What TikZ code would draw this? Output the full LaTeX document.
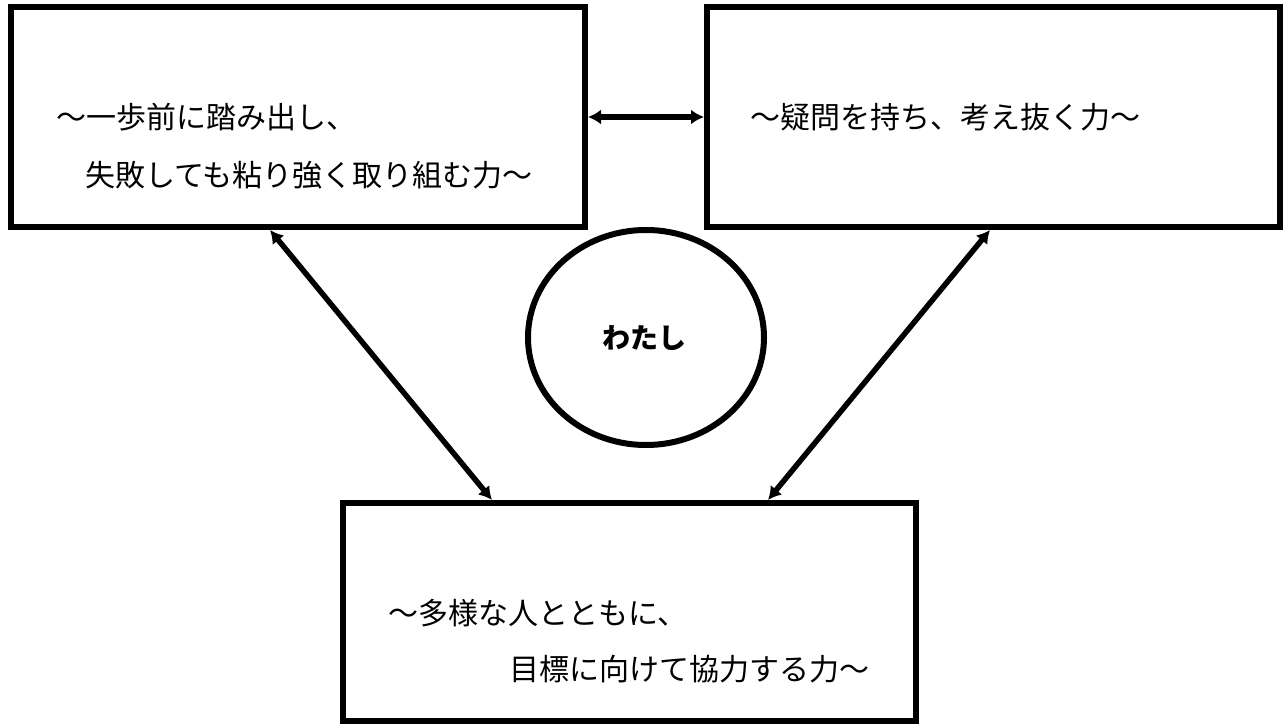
\documentclass[tikz,border=0pt]{standalone}
\usepackage{fontspec}
\newfontfamily\jp{Noto Sans CJK JP}
\usetikzlibrary{arrows.meta,shapes.geometric}
\begin{document}
\begin{tikzpicture}[x=1bp,y=-1bp,
  box/.style={draw, rectangle, line width=6bp, inner sep=0pt},
  ring/.style={draw, ellipse, line width=6bp, inner sep=0pt},
  lbl/.style={anchor=base west, inner sep=0pt, font=\jp\fontsize{30bp}{30bp}\selectfont},
  me/.style={inner sep=0pt, font=\jp\bfseries\fontsize{28bp}{28bp}\selectfont},
  link/.style={line width=5.5bp, {Latex[length=13bp,width=15bp]}-{Latex[length=13bp,width=15bp]}}]
\useasboundingbox (0,0) rectangle (1287,726);
\fill[white] (0,0) rectangle (1287,726);
% boxes
\node[box, minimum width=574bp, minimum height=220bp] (A) at (298,117) {};
\node[box, minimum width=573bp, minimum height=220bp] (B) at (993.5,117) {};
\node[box, minimum width=573bp, minimum height=218bp] (C) at (629.5,612) {};
\node[ring, minimum width=236bp, minimum height=215bp] (W) at (646,337.5) {};
% texts
\node[lbl] (tA1) at (56,129) {～一歩前に踏み出し、};
\node[lbl] (tA2) at (85,187) {失敗しても粘り強く取り組む力～};
\node[lbl] (tB) at (750,129) {～疑問を持ち、考え抜く力～};
\node[lbl] (tC1) at (388,624) {～多様な人とともに、};
\node[lbl] (tC2) at (509,680) {目標に向けて協力する力～};
\node[me] (tW) at (644,338) {わたし};
% connectors
\draw[link] (A.east) -- (B.west);
\draw[link] ([xshift=-28bp]A.south) -- ([xshift=-137.5bp]C.north);
\draw[link] ([xshift=-3.5bp]B.south) -- ([xshift=138.5bp]C.north);
\end{tikzpicture}
\end{document}
